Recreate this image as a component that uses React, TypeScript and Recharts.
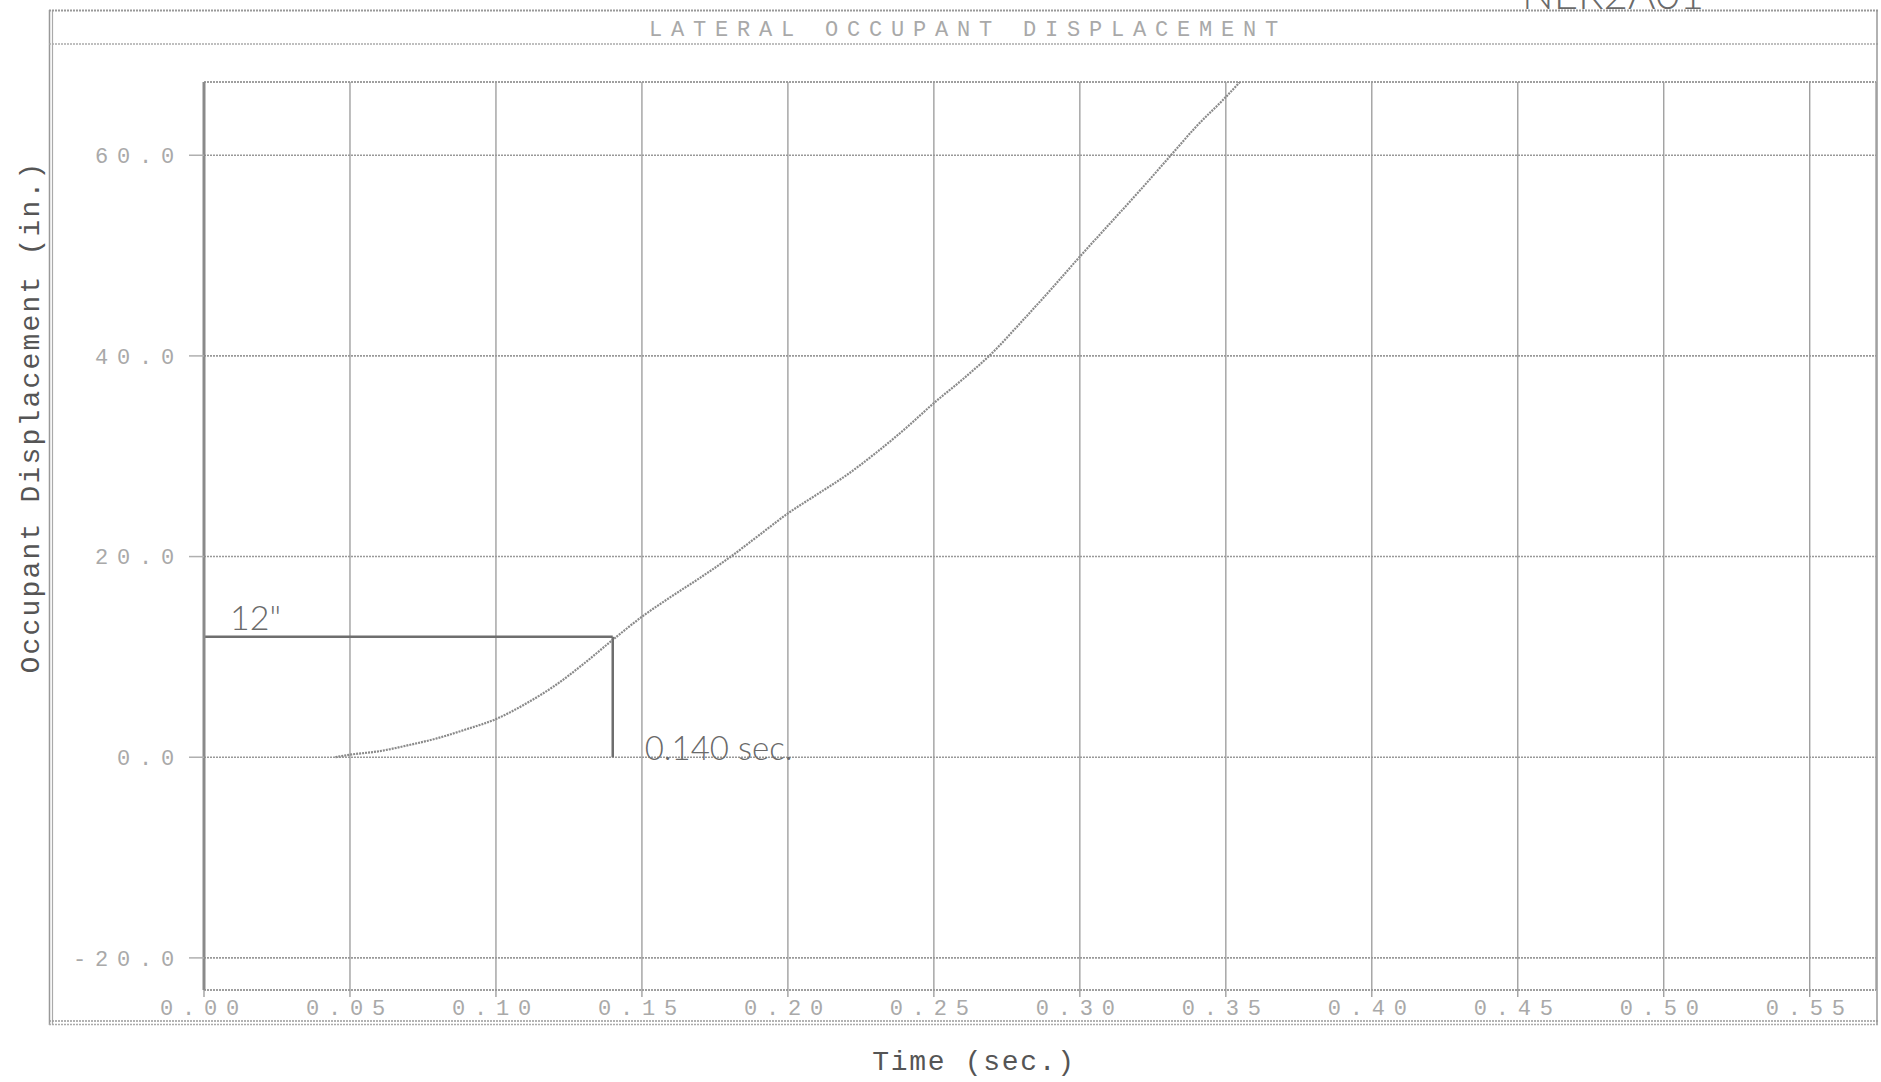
import { CartesianGrid, Line, LineChart, ReferenceDot, ReferenceLine, XAxis, YAxis } from "recharts";

const W = 1881;
const H = 1082;

// lateral occupant displacement trace (time in s, displacement in in.)
const TIME = [
  0.045, 0.05, 0.06, 0.07, 0.08, 0.09, 0.1, 0.11, 0.12, 0.13, 0.14, 0.15, 0.16, 0.17, 0.18, 0.19, 0.2,
  0.21, 0.22, 0.23, 0.24, 0.25, 0.26, 0.27, 0.28, 0.29, 0.3, 0.31, 0.32, 0.33, 0.34, 0.35, 0.36,
];
const DISP = [
  0, 0.25, 0.6, 1.2, 1.9, 2.8, 3.8, 5.3, 7.1, 9.3, 11.7, 14.0, 16.0, 17.9, 19.9, 22.1, 24.3,
  26.2, 28.1, 30.3, 32.7, 35.3, 37.7, 40.3, 43.4, 46.6, 49.9, 53.1, 56.3, 59.6, 62.9, 65.8, 69.0,
];

const X_TICKS = [0, 0.05, 0.1, 0.15, 0.2, 0.25, 0.3, 0.35, 0.4, 0.45, 0.5, 0.55];
const Y_TICKS = [-20, 0, 20, 40, 60];
const X_RANGE = [0, 0.5727];
const Y_RANGE = [-23.2, 67.3];

// hand-drawn marks
const MARK_TIME = 0.14;
const MARK_DISP = 12;
const MARK_DISP_LABEL = '12"';
const MARK_TIME_LABEL = "0.140 sec.";

const data = TIME.map((t, i) => ({ t, d: DISP[i] }));

const PLOT_LEFT = 204;
const PLOT_TOP = 82;
const PLOT_RIGHT = 1876;
const PLOT_BOTTOM = 990;
const YAXIS_W = 150;
const XAXIS_H = 40;

const MONO = "'Liberation Mono', 'DejaVu Sans Mono', monospace";
const HAND = "Lato, 'Open Sans', sans-serif";
const TICK = { fill: "#a9a9a9", fontSize: 22, fontFamily: MONO, letterSpacing: 8.8, style: { letterSpacing: "8.8px" } };
const GRID = "#999";

export default function App() {
  return (
    <div style={{ position: "absolute", left: 0, top: 0, width: W, height: H, background: "#fff" }}>
      <LineChart
        width={W}
        height={H}
        data={data}
        margin={{ top: PLOT_TOP, right: W - PLOT_RIGHT, bottom: H - PLOT_BOTTOM - XAXIS_H, left: PLOT_LEFT - YAXIS_W }}
      >
        <CartesianGrid horizontal={false} stroke={GRID} strokeWidth={1.3} />
        <CartesianGrid vertical={false} stroke={GRID} strokeWidth={1.6} strokeDasharray="2 1" />
        <XAxis
          dataKey="t"
          type="number"
          domain={X_RANGE}
          ticks={X_TICKS}
          interval={0}
          allowDataOverflow
          height={XAXIS_H}
          tickFormatter={(v: number) => v.toFixed(2)}
          tick={TICK}
          tickSize={7}
          tickMargin={2}
          tickLine={{ stroke: GRID, strokeWidth: 1.3 }}
          axisLine={{ stroke: GRID, strokeWidth: 1.6, strokeDasharray: "2 1" }}
        />
        <YAxis
          type="number"
          domain={Y_RANGE}
          ticks={Y_TICKS}
          interval={0}
          allowDataOverflow
          width={YAXIS_W}
          tickFormatter={(v: number) => v.toFixed(1)}
          tick={TICK}
          tickSize={15}
          tickMargin={6}
          tickLine={{ stroke: "#b0b0b0", strokeWidth: 1.5 }}
          axisLine={{ stroke: "#8a8a8a", strokeWidth: 3 }}
        />
        <ReferenceLine y={Y_RANGE[1]} stroke={GRID} strokeWidth={1.6} strokeDasharray="2 1" />
        <Line
          dataKey="d"
          type="monotone"
          stroke="#8a8a8a"
          strokeWidth={2.2}
          strokeDasharray="2 1"
          dot={false}
          isAnimationActive={false}
        />
        <ReferenceLine
          segment={[{ x: 0, y: MARK_DISP }, { x: MARK_TIME, y: MARK_DISP }]}
          stroke="#6e6e6e"
          strokeWidth={2.5}
        />
        <ReferenceLine
          segment={[{ x: MARK_TIME, y: MARK_DISP }, { x: MARK_TIME, y: 0 }]}
          stroke="#6e6e6e"
          strokeWidth={2.5}
        />
        <ReferenceDot
          x={0}
          y={MARK_DISP}
          r={1}
          fill="none"
          stroke="none"
          label={(p: any) => (
            <text x={p.viewBox.x + 27} y={p.viewBox.y - 6} fill="#6a6a6a" fontSize={34} fontFamily={HAND} fontWeight={300}>
              {MARK_DISP_LABEL}
            </text>
          )}
        />
        <ReferenceDot
          x={MARK_TIME}
          y={0}
          r={1}
          fill="none"
          stroke="none"
          label={(p: any) => (
            <text x={p.viewBox.x + 33} y={p.viewBox.y + 4} fill="#6a6a6a" fontSize={33} fontFamily={HAND} fontWeight={300}>
              {MARK_TIME_LABEL}
            </text>
          )}
        />
      </LineChart>

      <svg width={W} height={H} style={{ position: "absolute", left: 0, top: 0, pointerEvents: "none" }}>
        {/* outer plotter frame */}
        <line x1={49.5} y1={10} x2={49.5} y2={1025} stroke="#999" strokeWidth={1.5} />
        <line x1={52.5} y1={10} x2={52.5} y2={1025} stroke="#aaa" strokeWidth={1.2} />
        <line x1={49} y1={10.5} x2={1878} y2={10.5} stroke="#999" strokeWidth={1.8} strokeDasharray="2 1" />
        <line x1={49} y1={44} x2={1878} y2={44} stroke="#aaa" strokeWidth={1.4} strokeDasharray="2 1" />
        <line x1={1877} y1={10} x2={1877} y2={1025} stroke="#999" strokeWidth={1.5} />
        <line x1={49} y1={1021} x2={1878} y2={1021} stroke="#999" strokeWidth={1.6} strokeDasharray="2 1" />
        <line x1={49} y1={1024.5} x2={1878} y2={1024.5} stroke="#aaa" strokeWidth={1.6} strokeDasharray="2 1" />

        <text x={968} y={30} textAnchor="middle" dominantBaseline="central" fill="#a9a9a9" fontSize={22} fontFamily={MONO} style={{ letterSpacing: "8.8px" }}>
          LATERAL OCCUPANT DISPLACEMENT
        </text>

        <text
          x={31}
          y={417}
          transform="rotate(-90, 31, 417)"
          textAnchor="middle"
          dominantBaseline="central"
          fill="#555"
          fontSize={28}
          fontFamily={MONO}
          style={{ letterSpacing: "2.2px" }}
        >
          Occupant Displacement (in.)
        </text>
        <text x={974} y={1062} textAnchor="middle" dominantBaseline="central" fill="#555" fontSize={28} fontFamily={MONO} style={{ letterSpacing: "1.7px" }}>
          Time (sec.)
        </text>

        <text x={1522} y={9} fill="#6a6a6a" fontSize={42} fontFamily={HAND} fontWeight={300}>
          NER2A01
        </text>
      </svg>
    </div>
  );
}
